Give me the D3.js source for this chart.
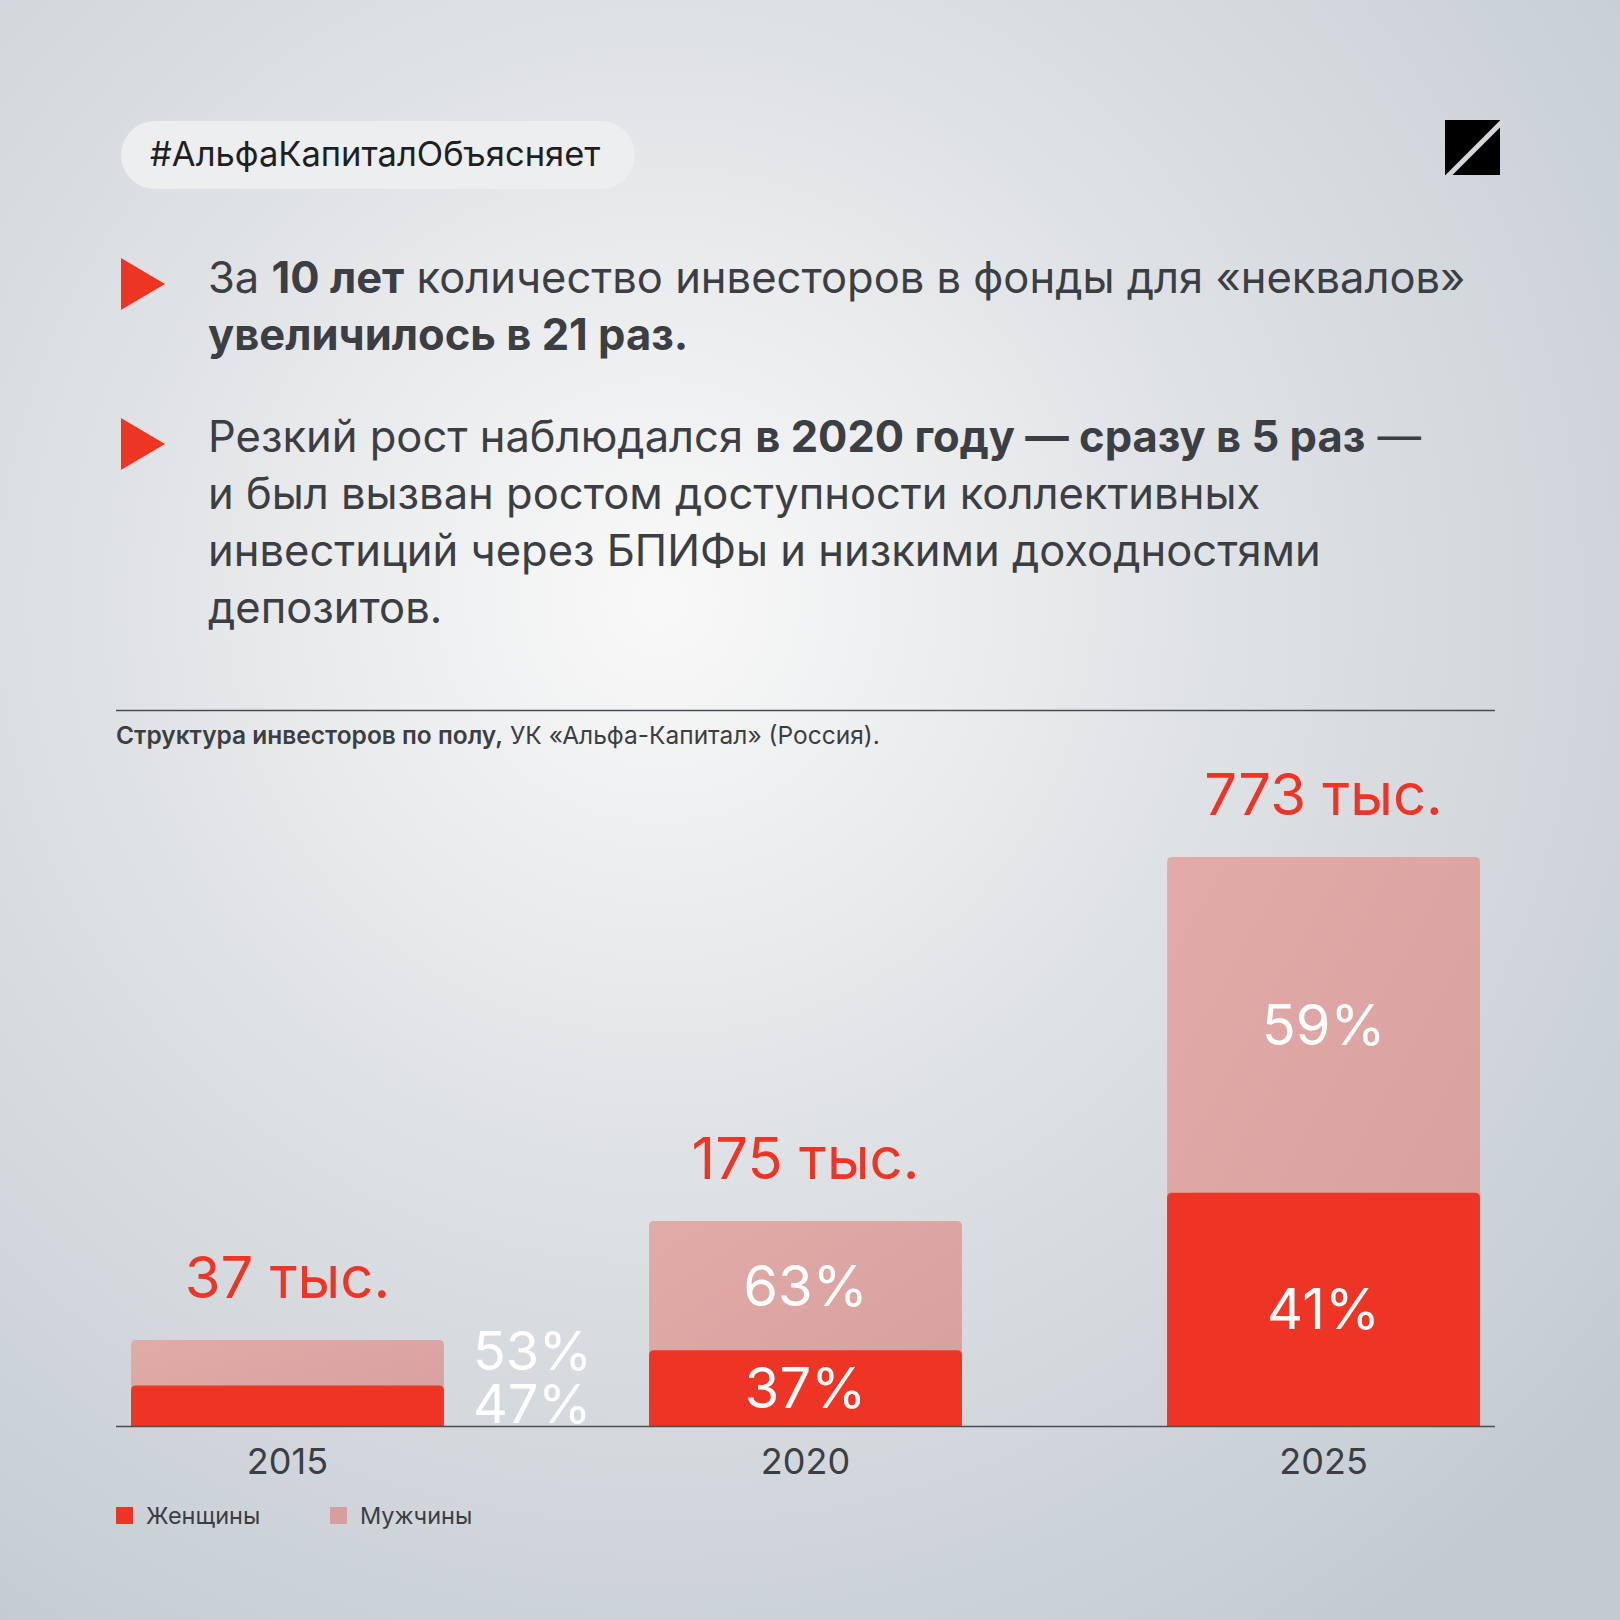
<!DOCTYPE html>
<html>
<head>
<meta charset="utf-8">
<script src="https://cdn.jsdelivr.net/npm/d3@7"></script>
<style>
  html, body { margin: 0; padding: 0; background: #d9dde1; }
  svg { display: block; font-family: Inter, "Noto Sans", sans-serif; }
</style>
</head>
<body>
<svg id="chart" width="1620" height="1620"></svg>
<script>
// data
var years = ['2015', '2020', '2025'];
var totals = [37, 175, 773];          // тыс. инвесторов
var women = [47, 37, 41];             // %
var men = [53, 63, 59];               // %
var seriesNames = ['Женщины', 'Мужчины'];

var tagText = '#АльфаКапиталОбъясняет';
var para1 = [
  [['За ', 0], ['10 лет', 1], [' количество инвесторов в фонды для «неквалов»', 0]],
  [['увеличилось в 21 раз.', 1]]
];
var para2 = [
  [['Резкий рост наблюдался ', 0], ['в 2020 году — сразу в 5 раз', 1], [' —', 0]],
  [['и был вызван ростом доступности коллективных', 0]],
  [['инвестиций через БПИФы и низкими доходностями', 0]],
  [['депозитов.', 0]]
];
var captionBold = 'Структура инвесторов по полу,';
var captionRest = ' УК «Альфа-Капитал» (Россия).';

var W = 1620, H = 1620;
var red = '#ee3424', ink = '#3b3e42';

var svg = d3.select('#chart');
var defs = svg.append('defs');

var bg = defs.append('radialGradient')
  .attr('id', 'bg')
  .attr('gradientUnits', 'userSpaceOnUse')
  .attr('cx', 660).attr('cy', 600).attr('r', 1250);
bg.append('stop').attr('offset', '0').attr('stop-color', '#f9f9f9');
bg.append('stop').attr('offset', '0.45').attr('stop-color', '#dfe2e5');
bg.append('stop').attr('offset', '1').attr('stop-color', '#c3cbd2');

var menGrad = defs.append('linearGradient')
  .attr('id', 'menGrad')
  .attr('x1', 0).attr('y1', 0).attr('x2', 1).attr('y2', 1);
menGrad.append('stop').attr('offset', '0').attr('stop-color', '#e3aba8');
menGrad.append('stop').attr('offset', '1').attr('stop-color', '#d49f9d');

svg.append('rect').attr('width', W).attr('height', H).attr('fill', 'url(#bg)');

// header tag
svg.append('rect')
  .attr('x', 121).attr('y', 121).attr('width', 514).attr('height', 68)
  .attr('rx', 34).attr('fill', '#eceeef');
svg.append('text')
  .attr('x', 150).attr('y', 166)
  .attr('font-size', 34.5).attr('fill', '#1e1f21')
  .text(tagText);

// logo
var logo = svg.append('g').attr('transform', 'translate(1445,120)');
logo.append('rect').attr('width', 55).attr('height', 55).attr('fill', '#000');
logo.append('line')
  .attr('x1', 2).attr('y1', 57).attr('x2', 57).attr('y2', 2)
  .attr('stroke', '#d4d8dc').attr('stroke-width', 5);

// bullets
function paragraph(lines, top, triTop) {
  svg.append('path')
    .attr('d', d3.line()([[121, triTop], [165, triTop + 26], [121, triTop + 52]]) + 'Z')
    .attr('fill', red);
  var t = svg.append('text')
    .attr('font-size', 43.5).attr('fill', ink);
  lines.forEach(function(line, i) {
    line.forEach(function(seg, j) {
      var s = t.append('tspan')
        .attr('font-weight', seg[1] ? 700 : 400)
        .text(seg[0]);
      if (j === 0) s.attr('x', 208).attr('y', top + i * 57);
    });
  });
}
paragraph(para1, 293, 258);
paragraph(para2, 452, 418);

// divider + caption
svg.append('line')
  .attr('x1', 116).attr('x2', 1495).attr('y1', 710.5).attr('y2', 710.5)
  .attr('stroke', '#4a4d51').attr('stroke-width', 1.5);
var cap = svg.append('text')
  .attr('x', 116).attr('y', 744)
  .attr('font-size', 24.5).attr('fill', ink);
cap.append('tspan').attr('font-weight', 600).text(captionBold);
cap.append('tspan').text(captionRest);

// chart
var baseY = 1426;
var x = d3.scaleBand()
  .domain(years)
  .range([116, 1495])
  .paddingInner(0.396)
  .paddingOuter(0.029);

// the infographic is not drawn to a linear scale; piecewise scale reproduces it
var h = d3.scaleLinear()
  .domain([0].concat(totals))
  .range([0, 86, 205, 569]);

var data = years.map(function(y, i) {
  return { year: y, total: totals[i], women: women[i], men: men[i] };
});

var g = svg.append('g');

var bars = g.selectAll('.bar')
  .data(data)
  .enter()
  .append('g')
  .attr('class', 'bar');

function roundTop(x0, y0, w, hh, r) {
  return 'M' + x0 + ',' + (y0 + hh) +
    'V' + (y0 + r) + 'Q' + x0 + ',' + y0 + ' ' + (x0 + r) + ',' + y0 +
    'H' + (x0 + w - r) + 'Q' + (x0 + w) + ',' + y0 + ' ' + (x0 + w) + ',' + (y0 + r) +
    'V' + (y0 + hh) + 'Z';
}

bars.append('path')
  .attr('fill', 'url(#menGrad)')
  .attr('d', function(d) {
    var hh = h(d.total);
    return roundTop(x(d.year), baseY - hh, x.bandwidth(), hh, 5);
  });

bars.append('path')
  .attr('fill', red)
  .attr('d', function(d) {
    var hh = h(d.total) * d.women / 100;
    return roundTop(x(d.year), baseY - hh, x.bandwidth(), hh, 5);
  });

// totals
bars.append('text')
  .attr('x', function(d) { return x(d.year) + x.bandwidth() / 2; })
  .attr('y', function(d) { return baseY - h(d.total) - 42; })
  .attr('text-anchor', 'middle')
  .attr('font-size', 58)
  .attr('fill', red)
  .text(function(d) { return d.total + ' тыс.'; });

// percent labels
function segMid(d, which) {
  var hh = h(d.total), hw = hh * d.women / 100;
  return which === 'w' ? baseY - hw / 2 : baseY - hw - (hh - hw) / 2;
}
function isSmall(d) { return h(d.total) < 120; }

['m', 'w'].forEach(function(which) {
  bars.append('text')
    .attr('x', function(d) {
      return isSmall(d) ? x(d.year) + x.bandwidth() + 29 : x(d.year) + x.bandwidth() / 2;
    })
    .attr('y', function(d) {
      var yy = segMid(d, which) + 20;
      if (isSmall(d)) yy = which === 'm' ? baseY - 56 : baseY - 3;
      return yy;
    })
    .attr('text-anchor', function(d) { return isSmall(d) ? 'start' : 'middle'; })
    .attr('font-size', function(d) { return isSmall(d) ? 54 : 56; })
    .attr('fill', '#fff')
    .text(function(d) { return (which === 'w' ? d.women : d.men) + '%'; });
});

// axis line
svg.append('line')
  .attr('x1', 116).attr('x2', 1495).attr('y1', baseY + 0.5).attr('y2', baseY + 0.5)
  .attr('stroke', '#4a4d51').attr('stroke-width', 1.5);

var xAxis = svg.append('g')
  .attr('transform', 'translate(0,' + baseY + ')')
  .call(d3.axisBottom(x).tickSize(0).tickPadding(48));
xAxis.select('.domain').remove();
xAxis.selectAll('text')
  .attr('font-family', 'Inter, "Noto Sans", sans-serif')
  .attr('font-size', 36)
  .attr('fill', ink)
  .attr('dy', 0);

// legend
var legend = svg.append('g').attr('transform', 'translate(116,1507)');
var li = legend.selectAll('g')
  .data(seriesNames)
  .enter()
  .append('g')
  .attr('transform', function(d, i) { return 'translate(' + (i * 214) + ',0)'; });
li.append('rect')
  .attr('width', 17).attr('height', 17)
  .attr('fill', function(d, i) { return i === 0 ? red : '#d49f9d'; });
li.append('text')
  .attr('x', 30).attr('y', 17)
  .attr('font-size', 23.5)
  .attr('fill', ink)
  .text(function(d) { return d; });
</script>
</body>
</html>
